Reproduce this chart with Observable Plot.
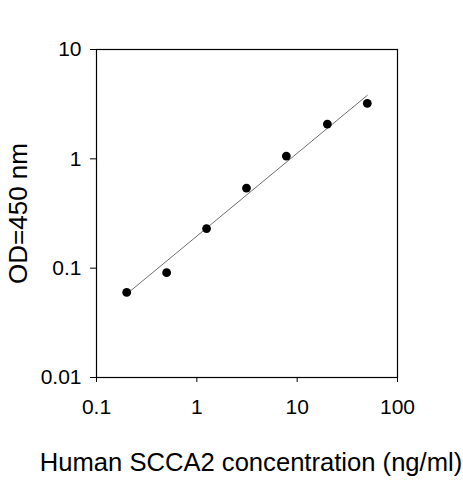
<!DOCTYPE html>
<html>
<head>
<meta charset="utf-8">
<script src="https://cdn.jsdelivr.net/npm/d3@7"></script>
<script src="https://cdn.jsdelivr.net/npm/@observablehq/plot@0.6"></script>
<style>
  body { margin: 0; background: #fff; }
</style>
</head>
<body>
<div id="chart"></div>
<script>
// standard curve: concentration (ng/ml) vs OD at 450 nm
const conc = [0.2, 0.5, 1.25, 3.125, 7.8, 20, 50];
const od = [0.06, 0.091, 0.23, 0.54, 1.06, 2.08, 3.22];

// fitted line endpoints
const fitX = [0.2, 50];
const fitY = [0.058, 3.81];

const xTicks = [0.1, 1, 10, 100];
const yTicks = [0.01, 0.1, 1, 10];

const xLabel = "Human SCCA2 concentration (ng/ml)";
const yLabel = "OD=450 nm";

const points = conc.map((c, i) => ({conc: c, od: od[i]}));
const fit = fitX.map((x, i) => ({x, y: fitY[i]}));

const chart = Plot.plot({
  width: 463,
  height: 480,
  marginLeft: 96,
  marginRight: 66,
  marginTop: 49,
  marginBottom: 103,
  style: {
    fontFamily: "'Liberation Sans', Arial, sans-serif",
    fontSize: "21px",
    background: "#fff",
    color: "#000",
    overflow: "visible"
  },
  x: {type: "log", domain: [0.1, 100]},
  y: {type: "log", domain: [0.01, 10]},
  marks: [
    Plot.frame({stroke: "#000", strokeWidth: 1.2}),
    Plot.axisX({ticks: xTicks, tickFormat: d => String(d), tickSize: 5, tickPadding: 17, label: null, fontSize: 21}),
    Plot.axisY({ticks: yTicks, tickFormat: d => String(d), tickSize: 6, tickPadding: 9, label: null, fontSize: 21}),
    Plot.line(fit, {x: "x", y: "y", stroke: "#707070", strokeWidth: 1}),
    Plot.dot(points, {x: "conc", y: "od", r: 4.4, fill: "#000"}),
    Plot.text([xLabel], {frameAnchor: "bottom", textAnchor: "middle", dx: 4, dy: 93, fontSize: 25.6, fill: "#000"}),
    Plot.text([yLabel], {frameAnchor: "left", textAnchor: "middle", dx: -78, rotate: -90, fontSize: 26, fill: "#000"})
  ]
});

document.getElementById("chart").appendChild(chart);
</script>
</body>
</html>
